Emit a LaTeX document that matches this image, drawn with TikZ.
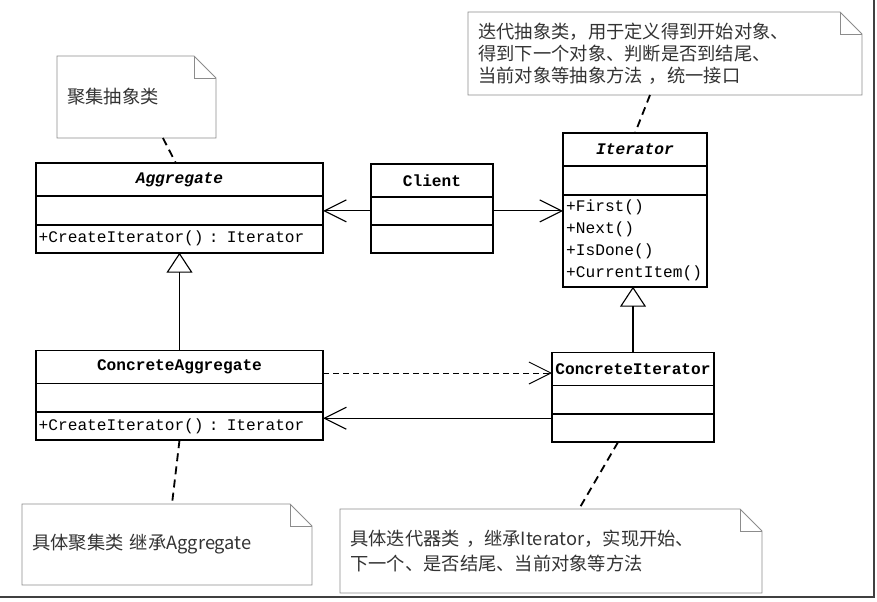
\documentclass[tikz,border=0pt]{standalone}
\usepackage{fontspec}
\setmonofont{Liberation Mono}
\newfontfamily\cjk{Noto Sans CJK SC}
\usepackage{tikz}
\usetikzlibrary{positioning,arrows.meta}

% folded-corner outline round a note node
\newcommand{\foldnote}[1]{%
  \draw[notebox] (#1.south west) -- (#1.north west) -- ([xshift=-5.5mm]#1.north east)
      -- ([yshift=-5.5mm]#1.north east) -- (#1.south east) -- cycle;
  \draw[notebox] ([xshift=-5.5mm]#1.north east) |- ([yshift=-5.5mm]#1.north east);}

\begin{document}
\begin{tikzpicture}[
    cls/.style={draw, line width=1.2pt, outer sep=0pt, inner xsep=0.8mm,
                font=\ttfamily\fontsize{11.5}{15.6}\selectfont},
    cname/.style={cls, minimum height=8.2mm, font=\ttfamily\bfseries\fontsize{11.5}{15.6}\selectfont},
    cattr/.style={cls, minimum height=7.2mm},
    cops/.style={cls, minimum height=7mm, align=left, inner ysep=1mm},
    note/.style={outer sep=0pt, inner xsep=2.6mm, align=left, text=black!80,
                 font=\cjk\fontsize{13}{15.6}\selectfont},
    notebox/.style={draw=black!45, line width=0.6pt},
    noteln/.style={line width=1.3pt, dash pattern=on 2mm off 1.3mm},
    dep/.style={-{Straight Barb[length=5.5mm, width=5.5mm]}, line width=0.8pt},
    realz/.style={dep, line width=0.7pt, dash pattern=on 1.5mm off 1mm},
    inh/.style={-{Triangle[open, length=5mm, width=6.5mm]}, line width=0.8pt},
]
\useasboundingbox (0,0) rectangle (21.925,-15.025);

% ===== Frame (right and bottom edge) =====
\draw[line width=1.5pt, black!75] (0,-14.925) -- (21.85,-14.925) -- (21.85,0);

% ===== Aggregate =====
\node[cname, minimum width=7.18cm] (ag) at (4.4875,-4.4875) {\textit{Aggregate}};
\node[cattr, minimum width=7.18cm, below=0pt of ag] (ag-a) {};
\node[cops, text width=7.04cm, inner xsep=0.7mm, below=0pt of ag-a] (ag-o) {+CreateIterator() : Iterator};

% ===== Client =====
\node[cname, minimum width=3.05cm] (cl) at (10.8,-4.5125) {Client};
\node[cattr, minimum width=3.05cm, minimum height=7mm, below=0pt of cl] (cl-a) {};
\node[cattr, minimum width=3.05cm, minimum height=7mm, below=0pt of cl-a] (cl-o) {};

% ===== Iterator =====
\node[cname, minimum width=3.6cm] (it) at (15.875,-3.7375) {\textit{Iterator}};
\node[cattr, minimum width=3.6cm, below=0pt of it] (it-a) {};
\node[cops, text width=3.44cm, minimum height=2.3cm, below=0pt of it-a] (it-o)
    {+First()\\+Next()\\+IsDone()\\+CurrentItem()};

% ===== ConcreteAggregate =====
\node[cname, minimum width=7.18cm] (ca) at (4.4875,-9.175) {ConcreteAggregate};
\node[cattr, minimum width=7.18cm, below=0pt of ca] (ca-a) {};
\node[cops, text width=7.04cm, inner xsep=0.7mm, below=0pt of ca-a] (ca-o) {+CreateIterator() : Iterator};

% ===== ConcreteIterator =====
\node[cname, minimum width=4.05cm] (ci) at (15.825,-9.225) {ConcreteIterator};
\node[cattr, minimum width=4.05cm, below=0pt of ci] (ci-a) {};
\node[cattr, minimum width=4.05cm, minimum height=7mm, below=0pt of ci-a] (ci-o) {};

% ===== Notes =====
\node[note, text width=3.455cm, minimum height=2.05cm] (n1) at (3.4125,-2.425) {聚集抽象类};
\node[note, text width=9.33cm, minimum height=2.075cm] (n2) at (16.625,-1.3375)
    {迭代抽象类，用于定义得到开始对象、\\得到下一个对象、判断是否到结尾、\\当前对象等抽象方法 ，统一接口};
\node[note, text width=6.73cm, minimum height=2.025cm] (n3) at (4.175,-13.6125) {具体聚集类 继承Aggregate};
\node[note, text width=10.03cm, minimum height=2.1cm, font=\cjk\fontsize{13}{17.7}\selectfont] (n4)
    at (13.775,-13.775) {具体迭代器类 ，继承Iterator，实现开始、\\下一个、是否结尾、当前对象等方法};
\foldnote{n1}
\foldnote{n2}
\foldnote{n3}
\foldnote{n4}

% ===== Note links =====
\draw[noteln] ([xshift=6.6mm]n1.south) -- ([xshift=-0.9mm]ag.north);
\draw[noteln] ([xshift=-3.75mm]n2.south) -- (it.north);
\draw[noteln] (ca-o.south) -- ([xshift=1.25mm]n3.north);
\draw[noteln] ([xshift=-3.75mm]ci-o.south) -- ([xshift=7mm]n4.north);

% ===== Client uses Aggregate and Iterator =====
\draw[dep] (cl-a.west) -- (cl-a.west -| ag-a.east);
\draw[dep] (cl-a.east) -- (cl-a.east -| it-o.west);

% ===== Inheritance =====
\draw[inh] (ca.north) -- (ag-o.south);
\draw[inh] (ci.north) -- (ci.north |- it-o.south);

% ===== ConcreteAggregate <-> ConcreteIterator =====
\coordinate (rl) at ([yshift=-1.5mm]ca.east);
\draw[realz] (rl) -- (rl -| ci.west);
\coordinate (as) at ([yshift=2.5mm]ci-o.west);
\draw[dep] (as) -- (as -| ca-o.east);

\end{tikzpicture}
\end{document}
